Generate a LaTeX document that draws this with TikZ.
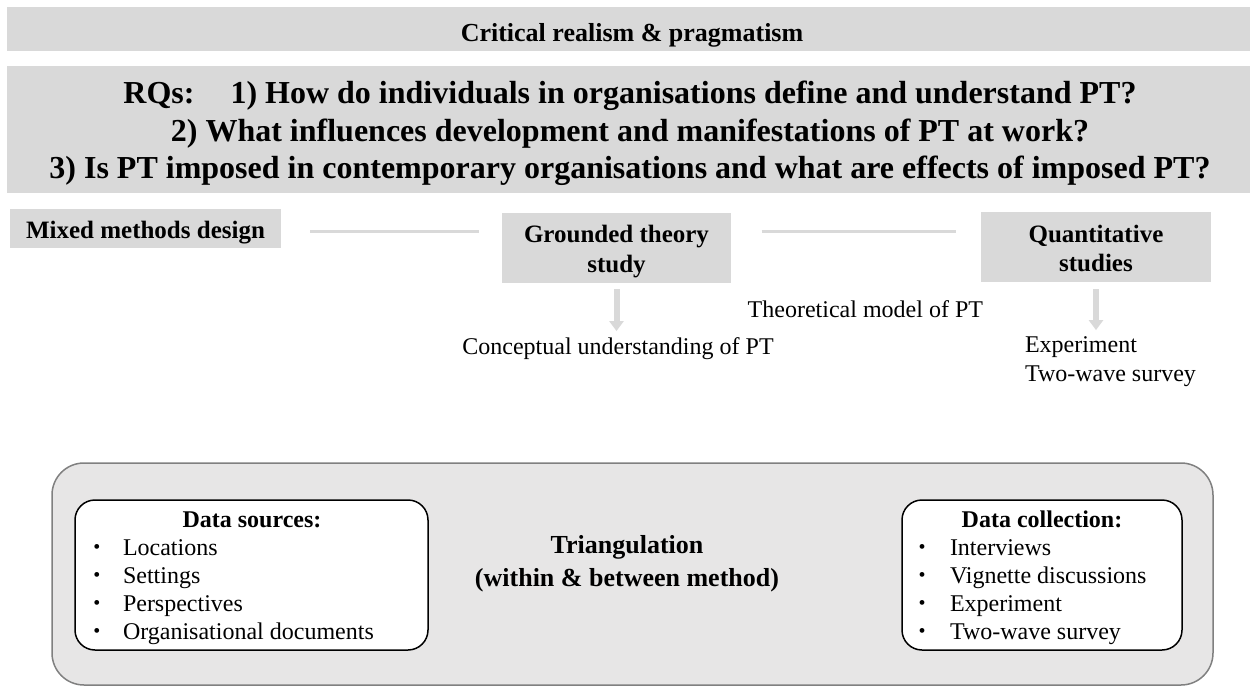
\documentclass[tikz,border=0pt]{standalone}
\usepackage{fontspec}
\setmainfont{Liberation Serif}
\usetikzlibrary{arrows.meta}
\definecolor{bandgray}{RGB}{217,217,217}
\definecolor{panelgray}{RGB}{231,230,230}
\definecolor{panelrule}{RGB}{128,128,128}
\newcommand\pxsize[1]{\fontsize{#1}{#1}\selectfont}
\begin{document}
\begin{tikzpicture}[x=0.5pt,y=-0.5pt,
  band/.style={fill=bandgray, inner sep=0pt, outer sep=0pt},
  txt/.style={anchor=base, inner sep=0pt, outer sep=0pt},
  bandtxt/.style={txt, font=\bfseries\pxsize{13pt}},
  rqtxt/.style={txt, font=\bfseries\pxsize{16pt}},
  boxtxt/.style={txt, font=\bfseries\pxsize{12.5pt}},
  plaintxt/.style={txt, font=\pxsize{12pt}},
  bullettxt/.style={txt, font=\pxsize{10pt}},
  headtxt/.style={txt, font=\bfseries\pxsize{12pt}},
  tritxt/.style={txt, font=\bfseries\pxsize{13pt}},
  link/.style={draw=bandgray, line width=1.5pt},
  fatarrow/.style={draw=bandgray, line width=3pt, -{Triangle[width=7pt,length=5pt]}},
  databox/.style={draw=black, fill=white, line width=0.75pt, rounded corners=10pt,
                  minimum height=75pt, inner sep=0pt}]
\useasboundingbox (0,0) rectangle (1250,686);

% philosophical stance
\node[band, minimum width=621.5pt, minimum height=22pt] (critband) at (628.5,29) {};
\node[bandtxt] (crittxt) at (632,41) {Critical realism \& pragmatism};

% research questions
\node[band, minimum width=621.5pt, minimum height=63.5pt] (rqband) at (628.5,129.5) {};
\node[rqtxt] (rq1) at (630,103) {RQs:\hspace{18pt}1) How do individuals in organisations define and understand PT?};
\node[rqtxt] (rq2) at (630,141) {2) What influences development and manifestations of PT at work?};
\node[rqtxt] (rq3) at (630,178) {3) Is PT imposed in contemporary organisations and what are effects of imposed PT?};

% design row
\node[band, minimum width=135.5pt, minimum height=19.5pt] (mixed) at (145.5,228.5) {};
\node[boxtxt] (mixedtxt) at (145.5,238) {Mixed methods design};
\node[band, minimum width=114.5pt, minimum height=35pt] (gt) at (616.5,248) {};
\node[boxtxt] (gt1) at (616.5,242) {Grounded theory};
\node[boxtxt] (gt2) at (616.5,272) {study};
\node[band, minimum width=115pt, minimum height=35pt] (quant) at (1096,247) {};
\node[boxtxt] (q1) at (1096,242) {Quantitative};
\node[boxtxt] (q2) at (1096,271) {studies};

\draw[link] ([xshift=14.5pt,yshift=-1.25pt]mixed.east) -- ([xshift=-11.5pt,yshift=8.5pt]gt.west);
\draw[link] ([xshift=15.25pt,yshift=8.5pt]gt.east) -- ([xshift=-12.5pt,yshift=8pt]quant.west);

% outcomes
\node[plaintxt] (concept) at (618,354) {Conceptual understanding of PT};
\node[plaintxt, anchor=base east] (theo) at (983,317) {Theoretical model of PT};
\node[plaintxt, anchor=base west] (exp1) at (1025,352) {Experiment};
\node[plaintxt, anchor=base west] (exp2) at (1025,381) {Two-wave survey};

\draw[fatarrow, shorten <=3pt, shorten >=3pt] (gt.south) -- (gt.south |- concept.north);
\draw[fatarrow, shorten <=3.5pt, shorten >=3pt] (quant.south) -- (quant.south |- exp1.north);

% triangulation panel
\node[draw=panelrule, fill=panelgray, line width=0.75pt, rounded corners=16pt,
      minimum width=580.5pt, minimum height=111pt, inner sep=0pt] (panel) at (632.5,574) {};
\node[databox, minimum width=176.5pt] (ds) at (251.5,575) {};
\node[databox, minimum width=140pt] (dc) at (1042,575) {};

\node[headtxt] (dshead) at (252,527) {Data sources:};
\node[headtxt] (dchead) at (1042,527) {Data collection:};

\foreach \item [count=\i] in {Locations, Settings, Perspectives, Organisational documents} {
  \node[bullettxt] (dsb\i) at (97,{553+28.33*(\i-1)}) {\textbullet};
  \node[plaintxt, anchor=base west] (dsi\i) at (123,{555+28.33*(\i-1)}) {\item};
}
\foreach \item [count=\i] in {Interviews, Vignette discussions, Experiment, Two-wave survey} {
  \node[bullettxt] (dcb\i) at (922,{553+28.33*(\i-1)}) {\textbullet};
  \node[plaintxt, anchor=base west] (dci\i) at (950,{555+28.33*(\i-1)}) {\item};
}

\node[tritxt] (tri1) at (627,553) {Triangulation};
\node[tritxt] (tri2) at (627,586) {(within \& between method)};
\end{tikzpicture}
\end{document}
